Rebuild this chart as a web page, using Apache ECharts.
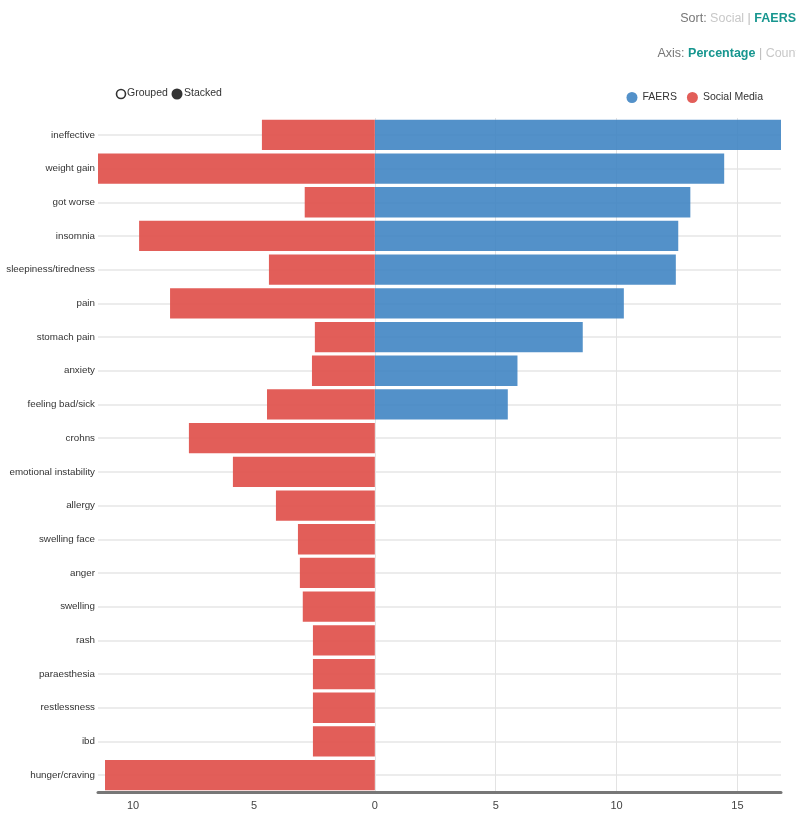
<!DOCTYPE html>
<html><head><meta charset="utf-8">
<script src="https://cdn.jsdelivr.net/npm/echarts@6/dist/echarts.min.js"></script>
<style>html,body{margin:0;padding:0;background:#fff}#c{width:796px;height:813px}</style>
</head><body><div id="c"></div>
<script>
const categories = ["ineffective","weight gain","got worse","insomnia","sleepiness/tiredness","pain","stomach pain","anxiety","feeling bad/sick","crohns","emotional instability","allergy","swelling face","anger","swelling","rash","paraesthesia","restlessness","ibd","hunger/craving"];
const faersValues = [16.8,14.45,13.05,12.55,12.45,10.3,8.6,5.9,5.5,null,null,null,null,null,null,null,null,null,null,null];
const socialValues = [4.67,11.45,2.9,9.75,4.38,8.47,2.48,2.6,4.46,7.69,5.87,4.09,3.18,3.1,2.98,2.56,2.56,2.56,2.56,11.16];
const FONT = '"Liberation Sans",Arial,sans-serif';

const chart = echarts.init(document.getElementById('c'));
chart.setOption({
  animation:false,
  textStyle:{fontFamily:FONT},
  grid:{left:98,right:15,top:118,bottom:21,containLabel:false,outerBoundsMode:'none'},
  legend:{
    data:['FAERS','Social Media'], right:28, top:87, icon:'circle', itemWidth:11, itemHeight:11, itemGap:10,
    textStyle:{fontFamily:FONT,fontSize:10.5,color:'#333'}
  },
  xAxis:{
    type:'value', min:-11.45, max:16.8, splitNumber:5,
    axisLine:{show:true,lineStyle:{color:'#777',width:3}},
    axisTick:{show:false},
    axisLabel:{showMinLabel:false,showMaxLabel:false,color:'#444',fontSize:11,fontFamily:FONT,margin:8,formatter:v=>String(Math.abs(v))},
    splitLine:{show:true,lineStyle:{color:['rgba(0,0,0,0)','rgba(0,0,0,0)','rgba(0,0,0,0)','#e3e3e3','#e3e3e3','#e3e3e3','#e3e3e3','rgba(0,0,0,0)'],width:1}}
  },
  yAxis:{
    type:'category', data:categories, inverse:true,
    axisLine:{show:false}, axisTick:{show:false},
    axisLabel:{color:'#333',fontSize:9.8,fontFamily:FONT,margin:3},
    splitLine:{show:true,alignWithLabel:true,lineStyle:{color:'#ececec',width:2}}
  },
  series:[
    {name:'FAERS',type:'bar',data:faersValues,barWidth:'90%',barGap:'-100%',
     itemStyle:{color:'#3b82c2',opacity:0.88}},
    {name:'Social Media',type:'bar',data:socialValues.map(v=>-v),barWidth:'90%',barGap:'-100%',
     itemStyle:{color:'#e0504b',opacity:0.92}}
  ],
  graphic:[
    {type:'text',right:0,top:12,style:{
      text:'{a|Sort: }{b|Social }{c||}{d| FAERS}',
      rich:{a:{fill:'#777',fontSize:12.5,fontFamily:FONT},b:{fill:'#c8c8c8',fontSize:12.5,fontFamily:FONT},c:{fill:'#bbb',fontSize:12.5,fontFamily:FONT},d:{fill:'#17968f',fontSize:12.5,fontWeight:'bold',fontFamily:FONT}}
    }},
    {type:'text',right:-3,top:47,style:{
      text:'{a|Axis: }{d|Percentage }{c||}{b| Count}',
      rich:{a:{fill:'#777',fontSize:12.5,fontFamily:FONT},b:{fill:'#c8c8c8',fontSize:12.5,fontFamily:FONT},c:{fill:'#bbb',fontSize:12.5,fontFamily:FONT},d:{fill:'#17968f',fontSize:12.5,fontWeight:'bold',fontFamily:FONT}}
    }},
    {type:'circle',shape:{cx:121,cy:94,r:4.5},style:{fill:'#fff',stroke:'#333',lineWidth:1.6}},
    {type:'text',left:127,top:88,style:{text:'Grouped',fill:'#333',fontSize:10.5,fontFamily:FONT}},
    {type:'circle',shape:{cx:177,cy:94,r:5.5},style:{fill:'#333'}},
    {type:'text',left:184,top:88,style:{text:'Stacked',fill:'#333',fontSize:10.5,fontFamily:FONT}}
  ]
});
</script></body></html>
